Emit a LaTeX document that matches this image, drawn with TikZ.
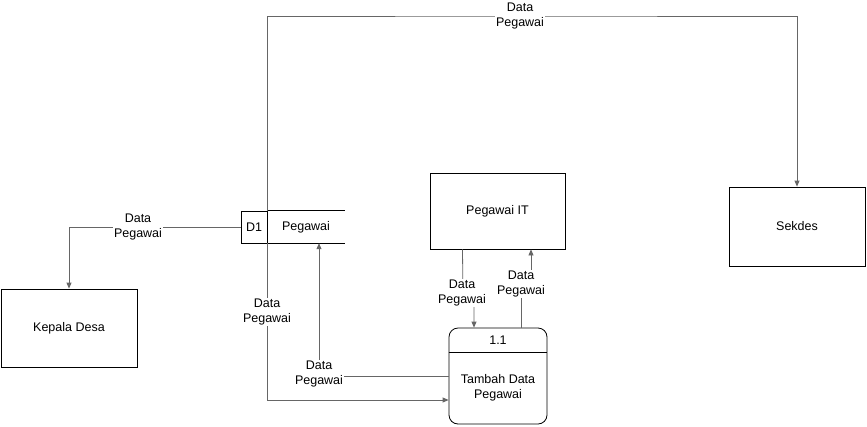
\documentclass[tikz,border=0pt]{standalone}
\usepackage{fontspec}
\setmainfont{Liberation Sans}
\usetikzlibrary{arrows.meta}

\begin{document}
\begin{tikzpicture}[x=1pt, y=-1pt,
  entity/.style={draw=black, line width=0.8pt, inner sep=0pt},
  flow/.style={draw=black!60, line width=0.8pt, -{Triangle[length=6pt, width=5pt]}},
  flowlabel/.style={fill=white, align=center, inner sep=1pt, font=\fontsize{12.5}{15}\selectfont},
  font=\fontsize{12.5}{15}\selectfont]

% 画布
\useasboundingbox (0,0) rectangle (867,426);

% 外部实体
\node[entity, minimum width=136pt, minimum height=78pt] (kades) at (69,328) {Kepala Desa};
\node[entity, minimum width=135pt, minimum height=76pt] (pit) at (497.5,211) {Pegawai IT};
\node[entity, minimum width=136pt, minimum height=79pt] (sekdes) at (797,226.5) {Sekdes};

% 数据存储 D1
\node[entity, minimum width=26pt, minimum height=32pt] (d1) at (254,227) {D1};
\node[minimum width=78pt, minimum height=32pt, inner sep=0pt] (dstore) at (306,227) {Pegawai};
\draw[line width=0.8pt] (dstore.north west) -- (dstore.north east);
\draw[line width=0.8pt] (dstore.south west) -- (dstore.south east);

% 过程 1.1
\node[entity, rounded corners=9pt, minimum width=98pt, minimum height=96pt] (proc) at (498,376) {};
\draw[line width=0.8pt] ([yshift=-25pt]proc.north west) -- ([yshift=-25pt]proc.north east);
\node (pnum) at (498,340) {1.1};
\node[align=center] (pname) at (498,388) {Tambah Data\\Pegawai};

% 数据流
\coordinate (top) at (520,16);
\draw[flow] (d1.north east) |- (top) -| (sekdes.north);
\draw[flow] (d1.south east) |- ([yshift=-24pt]proc.west);
\draw[flow] (d1.west) -| (kades.north);
\draw[flow] (proc.west) -| ([xshift=13pt]dstore.south);
\draw[flow] ([xshift=-35pt]pit.south) -- (463,300) -- (474,300) -- ([xshift=-24pt]proc.north);
\draw[flow] ([xshift=23pt]proc.north) -- (521,275) -- (531,275) -- ([xshift=33.5pt]pit.south);

% 标注
\node[flowlabel] (l1) at (top) {Data\\Pegawai};
\node[flowlabel] (l2) at (267,312) {Data\\Pegawai};
\node[flowlabel] (l3) at (138,227) {Data\\Pegawai};
\node[flowlabel] (l4) at (319,374) {Data\\Pegawai};
\node[flowlabel] (l5) at (462,293) {Data\\Pegawai};
\node[flowlabel] (l6) at (521,284) {Data\\Pegawai};

\end{tikzpicture}
\end{document}
